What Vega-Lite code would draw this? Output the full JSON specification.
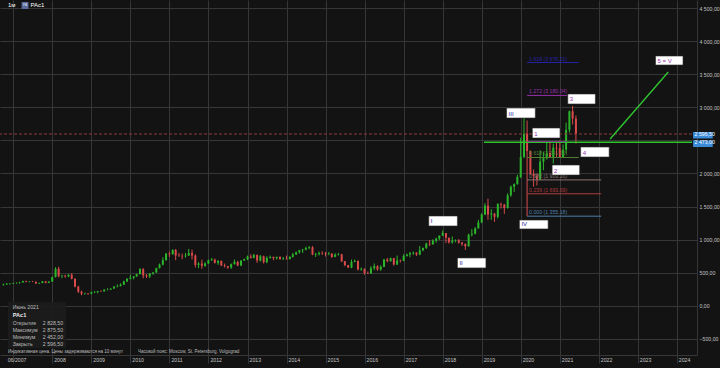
{
  "$schema": "https://vega.github.io/schema/vega-lite/v6.json",
  "width": 697,
  "height": 355,
  "autosize": {"type": "none"},
  "padding": {"left": 0, "top": 0, "right": 23, "bottom": 13},
  "background": "#131313",
  "config": {"view": {"stroke": null}, "font": "Liberation Sans"},
  "datasets": {
    "candles": [
      {"d":"2006/10/01","o":318,"h":335,"l":305,"c":325},
      {"d":"2006/11/01","o":325,"h":345,"l":315,"c":335},
      {"d":"2006/12/01","o":335,"h":345,"l":320,"c":338},
      {"d":"2007/01/01","o":338,"h":350,"l":330,"c":345},
      {"d":"2007/02/01","o":345,"h":355,"l":335,"c":350},
      {"d":"2007/03/01","o":350,"h":362,"l":335,"c":355},
      {"d":"2007/04/01","o":355,"h":380,"l":352,"c":375},
      {"d":"2007/05/01","o":375,"h":382,"l":355,"c":365},
      {"d":"2007/06/01","o":365,"h":375,"l":355,"c":368},
      {"d":"2007/07/01","o":368,"h":378,"l":360,"c":365},
      {"d":"2007/08/01","o":365,"h":368,"l":330,"c":340},
      {"d":"2007/09/01","o":340,"h":352,"l":330,"c":345},
      {"d":"2007/10/01","o":345,"h":375,"l":343,"c":370},
      {"d":"2007/11/01","o":370,"h":378,"l":340,"c":350},
      {"d":"2007/12/01","o":350,"h":370,"l":345,"c":368},
      {"d":"2008/01/01","o":368,"h":440,"l":362,"c":435},
      {"d":"2008/02/01","o":435,"h":585,"l":430,"c":560},
      {"d":"2008/03/01","o":560,"h":590,"l":430,"c":450},
      {"d":"2008/04/01","o":450,"h":470,"l":420,"c":455},
      {"d":"2008/05/01","o":455,"h":470,"l":425,"c":445},
      {"d":"2008/06/01","o":445,"h":480,"l":435,"c":470},
      {"d":"2008/07/01","o":470,"h":495,"l":400,"c":410},
      {"d":"2008/08/01","o":410,"h":415,"l":280,"c":290},
      {"d":"2008/09/01","o":290,"h":305,"l":195,"c":215},
      {"d":"2008/10/01","o":215,"h":230,"l":160,"c":185},
      {"d":"2008/11/01","o":185,"h":200,"l":170,"c":190},
      {"d":"2008/12/01","o":190,"h":195,"l":165,"c":185},
      {"d":"2009/01/01","o":185,"h":215,"l":175,"c":205},
      {"d":"2009/02/01","o":205,"h":225,"l":195,"c":210},
      {"d":"2009/03/01","o":210,"h":225,"l":190,"c":222},
      {"d":"2009/04/01","o":222,"h":235,"l":210,"c":220},
      {"d":"2009/05/01","o":220,"h":250,"l":215,"c":245},
      {"d":"2009/06/01","o":245,"h":265,"l":235,"c":248},
      {"d":"2009/07/01","o":248,"h":265,"l":240,"c":262},
      {"d":"2009/08/01","o":262,"h":300,"l":260,"c":290},
      {"d":"2009/09/01","o":290,"h":325,"l":280,"c":298},
      {"d":"2009/10/01","o":298,"h":340,"l":295,"c":320},
      {"d":"2009/11/01","o":320,"h":380,"l":315,"c":370},
      {"d":"2009/12/01","o":370,"h":420,"l":360,"c":408},
      {"d":"2010/01/01","o":408,"h":470,"l":400,"c":425},
      {"d":"2010/02/01","o":425,"h":450,"l":400,"c":445},
      {"d":"2010/03/01","o":445,"h":485,"l":440,"c":480},
      {"d":"2010/04/01","o":480,"h":570,"l":475,"c":555},
      {"d":"2010/05/01","o":555,"h":570,"l":415,"c":460},
      {"d":"2010/06/01","o":460,"h":480,"l":420,"c":445},
      {"d":"2010/07/01","o":445,"h":495,"l":420,"c":490},
      {"d":"2010/08/01","o":490,"h":510,"l":470,"c":505},
      {"d":"2010/09/01","o":505,"h":575,"l":500,"c":570},
      {"d":"2010/10/01","o":570,"h":640,"l":565,"c":625},
      {"d":"2010/11/01","o":625,"h":735,"l":610,"c":690},
      {"d":"2010/12/01","o":690,"h":800,"l":685,"c":790},
      {"d":"2011/01/01","o":790,"h":820,"l":740,"c":780},
      {"d":"2011/02/01","o":780,"h":855,"l":775,"c":845},
      {"d":"2011/03/01","o":845,"h":860,"l":690,"c":760},
      {"d":"2011/04/01","o":760,"h":800,"l":740,"c":755},
      {"d":"2011/05/01","o":755,"h":790,"l":705,"c":750},
      {"d":"2011/06/01","o":750,"h":800,"l":730,"c":760},
      {"d":"2011/07/01","o":760,"h":860,"l":755,"c":800},
      {"d":"2011/08/01","o":800,"h":850,"l":700,"c":760},
      {"d":"2011/09/01","o":760,"h":780,"l":580,"c":620},
      {"d":"2011/10/01","o":620,"h":660,"l":570,"c":640},
      {"d":"2011/11/01","o":640,"h":700,"l":560,"c":605},
      {"d":"2011/12/01","o":605,"h":660,"l":590,"c":640},
      {"d":"2012/01/01","o":640,"h":700,"l":630,"c":690},
      {"d":"2012/02/01","o":690,"h":725,"l":680,"c":700},
      {"d":"2012/03/01","o":700,"h":715,"l":640,"c":650},
      {"d":"2012/04/01","o":650,"h":690,"l":620,"c":680},
      {"d":"2012/05/01","o":680,"h":685,"l":600,"c":612},
      {"d":"2012/06/01","o":612,"h":640,"l":580,"c":600},
      {"d":"2012/07/01","o":600,"h":605,"l":560,"c":580},
      {"d":"2012/08/01","o":580,"h":640,"l":560,"c":630},
      {"d":"2012/09/01","o":630,"h":700,"l":625,"c":665},
      {"d":"2012/10/01","o":665,"h":680,"l":600,"c":610},
      {"d":"2012/11/01","o":610,"h":690,"l":600,"c":685},
      {"d":"2012/12/01","o":685,"h":715,"l":680,"c":705},
      {"d":"2013/01/01","o":705,"h":760,"l":690,"c":745},
      {"d":"2013/02/01","o":745,"h":780,"l":715,"c":725},
      {"d":"2013/03/01","o":725,"h":785,"l":720,"c":770},
      {"d":"2013/04/01","o":770,"h":775,"l":650,"c":685},
      {"d":"2013/05/01","o":685,"h":770,"l":670,"c":750},
      {"d":"2013/06/01","o":750,"h":760,"l":640,"c":660},
      {"d":"2013/07/01","o":660,"h":750,"l":645,"c":725},
      {"d":"2013/08/01","o":725,"h":760,"l":715,"c":740},
      {"d":"2013/09/01","o":740,"h":745,"l":690,"c":720},
      {"d":"2013/10/01","o":720,"h":745,"l":700,"c":740},
      {"d":"2013/11/01","o":740,"h":750,"l":700,"c":705},
      {"d":"2013/12/01","o":705,"h":740,"l":695,"c":715},
      {"d":"2014/01/01","o":715,"h":760,"l":700,"c":705},
      {"d":"2014/02/01","o":705,"h":750,"l":705,"c":740},
      {"d":"2014/03/01","o":740,"h":800,"l":730,"c":775},
      {"d":"2014/04/01","o":775,"h":820,"l":770,"c":810},
      {"d":"2014/05/01","o":810,"h":845,"l":790,"c":840},
      {"d":"2014/06/01","o":840,"h":860,"l":800,"c":850},
      {"d":"2014/07/01","o":850,"h":895,"l":840,"c":875},
      {"d":"2014/08/01","o":875,"h":905,"l":855,"c":885},
      {"d":"2014/09/01","o":885,"h":905,"l":765,"c":775},
      {"d":"2014/10/01","o":775,"h":800,"l":740,"c":785},
      {"d":"2014/11/01","o":785,"h":820,"l":760,"c":800},
      {"d":"2014/12/01","o":800,"h":825,"l":770,"c":795},
      {"d":"2015/01/01","o":795,"h":815,"l":745,"c":785},
      {"d":"2015/02/01","o":785,"h":815,"l":765,"c":790},
      {"d":"2015/03/01","o":790,"h":795,"l":725,"c":740},
      {"d":"2015/04/01","o":740,"h":795,"l":735,"c":775},
      {"d":"2015/05/01","o":775,"h":800,"l":760,"c":780},
      {"d":"2015/06/01","o":780,"h":785,"l":660,"c":675},
      {"d":"2015/07/01","o":675,"h":680,"l":600,"c":615},
      {"d":"2015/08/01","o":615,"h":620,"l":570,"c":580},
      {"d":"2015/09/01","o":580,"h":700,"l":570,"c":665},
      {"d":"2015/10/01","o":665,"h":700,"l":660,"c":680},
      {"d":"2015/11/01","o":680,"h":685,"l":535,"c":550},
      {"d":"2015/12/01","o":550,"h":580,"l":530,"c":560},
      {"d":"2016/01/01","o":560,"h":565,"l":470,"c":495},
      {"d":"2016/02/01","o":495,"h":520,"l":480,"c":490},
      {"d":"2016/03/01","o":490,"h":600,"l":485,"c":570},
      {"d":"2016/04/01","o":570,"h":640,"l":540,"c":600},
      {"d":"2016/05/01","o":600,"h":615,"l":530,"c":550},
      {"d":"2016/06/01","o":550,"h":615,"l":530,"c":590},
      {"d":"2016/07/01","o":590,"h":710,"l":585,"c":700},
      {"d":"2016/08/01","o":700,"h":725,"l":660,"c":675},
      {"d":"2016/09/01","o":675,"h":730,"l":670,"c":720},
      {"d":"2016/10/01","o":720,"h":725,"l":610,"c":625},
      {"d":"2016/11/01","o":625,"h":760,"l":620,"c":685},
      {"d":"2016/12/01","o":685,"h":700,"l":655,"c":680},
      {"d":"2017/01/01","o":680,"h":780,"l":675,"c":755},
      {"d":"2017/02/01","o":755,"h":790,"l":745,"c":775},
      {"d":"2017/03/01","o":775,"h":815,"l":735,"c":795},
      {"d":"2017/04/01","o":795,"h":820,"l":770,"c":805},
      {"d":"2017/05/01","o":805,"h":810,"l":755,"c":775},
      {"d":"2017/06/01","o":775,"h":905,"l":765,"c":840},
      {"d":"2017/07/01","o":840,"h":880,"l":825,"c":875},
      {"d":"2017/08/01","o":875,"h":955,"l":860,"c":940},
      {"d":"2017/09/01","o":940,"h":995,"l":905,"c":930},
      {"d":"2017/10/01","o":930,"h":1005,"l":925,"c":985},
      {"d":"2017/11/01","o":985,"h":1030,"l":955,"c":1015},
      {"d":"2017/12/01","o":1015,"h":1065,"l":995,"c":1060},
      {"d":"2018/01/01","o":1060,"h":1140,"l":1060,"c":1100},
      {"d":"2018/02/01","o":1100,"h":1100,"l":950,"c":1030},
      {"d":"2018/03/01","o":1030,"h":1030,"l":940,"c":960},
      {"d":"2018/04/01","o":960,"h":1050,"l":940,"c":985},
      {"d":"2018/05/01","o":985,"h":1005,"l":960,"c":990},
      {"d":"2018/06/01","o":990,"h":1010,"l":940,"c":955},
      {"d":"2018/07/01","o":955,"h":965,"l":905,"c":935},
      {"d":"2018/08/01","o":935,"h":945,"l":845,"c":900},
      {"d":"2018/09/01","o":900,"h":1090,"l":895,"c":1075},
      {"d":"2018/10/01","o":1075,"h":1160,"l":1050,"c":1090},
      {"d":"2018/11/01","o":1090,"h":1190,"l":1080,"c":1170},
      {"d":"2018/12/01","o":1170,"h":1300,"l":1170,"c":1260},
      {"d":"2019/01/01","o":1260,"h":1400,"l":1250,"c":1380},
      {"d":"2019/02/01","o":1380,"h":1550,"l":1370,"c":1515},
      {"d":"2019/03/01","o":1515,"h":1620,"l":1300,"c":1380},
      {"d":"2019/04/01","o":1380,"h":1460,"l":1300,"c":1395},
      {"d":"2019/05/01","o":1395,"h":1400,"l":1270,"c":1345},
      {"d":"2019/06/01","o":1345,"h":1550,"l":1320,"c":1540},
      {"d":"2019/07/01","o":1540,"h":1560,"l":1470,"c":1530},
      {"d":"2019/08/01","o":1530,"h":1540,"l":1390,"c":1480},
      {"d":"2019/09/01","o":1480,"h":1700,"l":1470,"c":1670},
      {"d":"2019/10/01","o":1670,"h":1820,"l":1650,"c":1800},
      {"d":"2019/11/01","o":1800,"h":1850,"l":1720,"c":1840},
      {"d":"2019/12/01","o":1840,"h":1980,"l":1830,"c":1950},
      {"d":"2020/01/01","o":1950,"h":2540,"l":1930,"c":2250},
      {"d":"2020/02/01","o":2250,"h":2875,"l":2230,"c":2600},
      {"d":"2020/03/01","o":2600,"h":2800,"l":1355,"c":2340},
      {"d":"2020/04/01","o":2340,"h":2350,"l":1980,"c":1990},
      {"d":"2020/05/01","o":1990,"h":2060,"l":1800,"c":1960},
      {"d":"2020/06/01","o":1960,"h":2000,"l":1820,"c":1910},
      {"d":"2020/07/01","o":1910,"h":2350,"l":1900,"c":2180},
      {"d":"2020/08/01","o":2180,"h":2330,"l":2050,"c":2230},
      {"d":"2020/09/01","o":2230,"h":2480,"l":2210,"c":2310},
      {"d":"2020/10/01","o":2310,"h":2460,"l":2240,"c":2245},
      {"d":"2020/11/01","o":2245,"h":2450,"l":2150,"c":2390},
      {"d":"2020/12/01","o":2390,"h":2470,"l":2240,"c":2380},
      {"d":"2021/01/01","o":2380,"h":2500,"l":2240,"c":2240},
      {"d":"2021/02/01","o":2240,"h":2440,"l":2240,"c":2360},
      {"d":"2021/03/01","o":2360,"h":2770,"l":2300,"c":2660},
      {"d":"2021/04/01","o":2660,"h":2950,"l":2620,"c":2940},
      {"d":"2021/05/01","o":2940,"h":3020,"l":2740,"c":2830},
      {"d":"2021/06/01","o":2828.5,"h":2875.5,"l":2452,"c":2596.5}
    ],
    "fib": [
      {"lvl":"1.618","lab":"1.618 (3 676.21)","d":"2020/03/01","d2":"2021/06/27","v":3676.2},
      {"lvl":"1.272","lab":"1.272 (3 180.04)","d":"2020/03/01","d2":"2021/03/08","v":3179.9},
      {"lvl":"0.786","lab":"0.786 (2 482.71)","d":"2020/03/01","d2":"2021/03/08","v":2482.7},
      {"lvl":"0.618","lab":"0.618 (2 241.71)","d":"2020/03/01","d2":"2021/06/27","v":2241.7},
      {"lvl":"0.382","lab":"0.382 (1 903.16)","d":"2020/03/01","d2":"2022/01/24","v":1903.16},
      {"lvl":"0.236","lab":"0.236 (1 693.69)","d":"2020/03/01","d2":"2022/01/24","v":1693.69},
      {"lvl":"0.000","lab":"0.000 (1 355.18)","d":"2020/03/01","d2":"2022/01/24","v":1355.18}
    ],
    "waves": [
      {"lab":"III","kind":"roman","d":"2019/08/22","d2":"2020/05/17","v":2838,"v2":2989},
      {"lab":"1","kind":"arabic","d":"2020/04/19","d2":"2021/01/03","v":2536,"v2":2687},
      {"lab":"3","kind":"arabic","d":"2021/03/17","d2":"2021/11/30","v":3050,"v2":3201},
      {"lab":"4","kind":"arabic","d":"2021/07/15","d2":"2022/04/08","v":2249,"v2":2400},
      {"lab":"2","kind":"arabic","d":"2020/10/21","d2":"2021/07/06","v":1977,"v2":2128},
      {"lab":"IV","kind":"roman","d":"2019/12/20","d2":"2020/09/14","v":1162,"v2":1297},
      {"lab":"I","kind":"roman","d":"2017/08/24","d2":"2018/05/19","v":1207,"v2":1358},
      {"lab":"II","kind":"roman","d":"2018/05/19","d2":"2019/02/10","v":573,"v2":724},
      {"lab":"5 = V","kind":"arabic","d":"2023/06/16","d2":"2024/02/28","v":3639,"v2":3775}
    ],
    "tags": [
      {"lab":"2 596,50","d":"2024/06/01","d2":"2024/12/02","v":2596.5,"lo":2529,"hi":2627},
      {"lab":"2 473,00","d":"2024/06/01","d2":"2024/12/02","v":2473,"lo":2400,"hi":2500}
    ]
  },
  "layer": [
    {
      "data": {"name": "candles"},
      "mark": {"type": "rule", "strokeWidth": 1},
      "encoding": {
        "x": {"field":"d","type":"temporal","scale":{"type":"time","domain":[{"year":2006,"month":10,"date":16},{"year":2024,"month":5,"date":22}]},
          "axis": {"title":null,"orient":"bottom","tickCount":40,"values":[{"year":2007,"month":1,"date":1},{"year":2008,"month":1,"date":1},{"year":2009,"month":1,"date":1},{"year":2010,"month":1,"date":1},{"year":2011,"month":1,"date":1},{"year":2012,"month":1,"date":1},{"year":2013,"month":1,"date":1},{"year":2014,"month":1,"date":1},{"year":2015,"month":1,"date":1},{"year":2016,"month":1,"date":1},{"year":2017,"month":1,"date":1},{"year":2018,"month":1,"date":1},{"year":2019,"month":1,"date":1},{"year":2020,"month":1,"date":1},{"year":2021,"month":1,"date":1},{"year":2022,"month":1,"date":1},{"year":2023,"month":1,"date":1},{"year":2024,"month":1,"date":1}],
            "format":"%Y","labelExpr":"year(datum.value) == 2007 ? '06/2007' : datum.label",
            "grid":true,"gridColor":"#363636","tickColor":"#363636","tickSize":8,"domainColor":"#363636",
            "labelAlign":"left","labelBaseline":"top","labelPadding":-6,
            "labelOffset":{"condition":{"test":"year(datum.value) == 2007","value":-6},"value":1.5},
            "labelFontSize":5.2,"labelColor":"#c4c4c4","labelOverlap":false,"labelFlush":false}},
        "y": {"field":"l","type":"quantitative","scale":{"domain":[-742,4621],"nice":false,"zero":false},
          "axis": {"title":null,"orient":"right","tickCount":40,"values":[-500,0,500,1000,1500,2000,2500,3000,3500,4000,4500],
            "labelExpr":"datum.value == 2500 ? '' : replace(replace(format(datum.value, ',.2f'), ',', ' '), '.', ',')",
            "grid":true,"gridColor":"#363636","ticks":false,"domainColor":"#363636",
            "labelPadding":2,"labelFontSize":5.2,"labelColor":"#c4c4c4","labelAlign":"left","labelBaseline":"middle",
            "labelOverlap":false,"labelFlush":false}},
        "y2": {"field":"h"},
        "color": {"condition":{"test":"datum.c >= datum.o","value":"#2bb52b"},"value":"#d94a4a"}
      }
    },
    {
      "data": {"name": "candles"},
      "mark": {"type": "bar", "width": 2},
      "encoding": {
        "x": {"field":"d","type":"temporal","scale":{"type":"time","domain":[{"year":2006,"month":10,"date":16},{"year":2024,"month":5,"date":22}]}},
        "y": {"field":"o","type":"quantitative","scale":{"domain":[-742,4621],"nice":false,"zero":false}},
        "y2": {"field":"c"},
        "color": {"condition":{"test":"datum.c >= datum.o","value":"#2bb52b"},"value":"#d94a4a"}
      }
    },
    {
      "data": {"values": [{"d":"2006/11/13","d2":"2008/05/09","v":-636,"v2":59}]},
      "mark": {"type": "rect", "fill": "#1c1c1c", "opacity": 0.92},
      "encoding": {
        "x": {"field":"d","type":"temporal","scale":{"type":"time","domain":[{"year":2006,"month":10,"date":16},{"year":2024,"month":5,"date":22}]}},
        "x2": {"field":"d2"},
        "y": {"field":"v","type":"quantitative","scale":{"domain":[-742,4621],"nice":false,"zero":false}},
        "y2": {"field":"v2"}
      }
    },
    {
      "data": {"values": [{"v":2596.5}]},
      "mark": {"type": "rule", "stroke": "#8e3a3a", "strokeWidth": 1, "strokeDash": [3, 2]},
      "encoding": {
        "y": {"field":"v", "type":"quantitative","scale":{"domain":[-742,4621],"nice":false,"zero":false}}
      }
    },
    {
      "data": {"values": [{"d":"2019/01/23","d2":"2024/05/22","v":2473}]},
      "mark": {"type": "rule", "stroke": "#2fc42f", "strokeWidth": 1.6},
      "encoding": {
        "x": {"field":"d","type":"temporal","scale":{"type":"time","domain":[{"year":2006,"month":10,"date":16},{"year":2024,"month":5,"date":22}]}},
        "x2": {"field":"d2"},
        "y": {"field":"v", "type":"quantitative","scale":{"domain":[-742,4621],"nice":false,"zero":false}}
      }
    },
    {
      "data": {"values": [{"d":"2022/04/17","d2":"2023/10/13","v":2521,"v2":3533}]},
      "mark": {"type": "rule", "stroke": "#2fc42f", "strokeWidth": 1.4},
      "encoding": {
        "x": {"field":"d","type":"temporal","scale":{"type":"time","domain":[{"year":2006,"month":10,"date":16},{"year":2024,"month":5,"date":22}]}},
        "x2": {"field":"d2"},
        "y": {"field":"v", "type":"quantitative","scale":{"domain":[-742,4621],"nice":false,"zero":false}},
        "y2": {"field":"v2"}
      }
    },
    {
      "data": {"name": "fib"},
      "mark": {"type": "rule", "strokeWidth": 1},
      "encoding": {
        "x": {"field":"d","type":"temporal","scale":{"type":"time","domain":[{"year":2006,"month":10,"date":16},{"year":2024,"month":5,"date":22}]}},
        "x2": {"field":"d2"},
        "y": {"field":"v","type":"quantitative","scale":{"domain":[-742,4621],"nice":false,"zero":false}},
        "color": {"field":"lvl","type":"nominal","legend":null,
          "scale":{"domain":["1.618","1.272","0.786","0.618","0.382","0.236","0.000"],"range":["#2424a8","#9a2fae","#7a3f86","#4f7f35","#8c7474","#b03c3c","#4e7ea8"]}}
      }
    },
    {
      "data": {"name": "fib"},
      "transform": [{"filter": "datum.lvl != '0.786'"}],
      "mark": {"type": "text", "align": "left", "baseline": "bottom", "dx": 2, "dy": -1, "fontSize": 5.2},
      "encoding": {
        "x": {"field":"d","type":"temporal","scale":{"type":"time","domain":[{"year":2006,"month":10,"date":16},{"year":2024,"month":5,"date":22}]}},
        "y": {"field":"v","type":"quantitative","scale":{"domain":[-742,4621],"nice":false,"zero":false}},
        "text": {"field":"lab"},
        "color": {"field":"lvl","type":"nominal","legend":null,
          "scale":{"domain":["1.618","1.272","0.786","0.618","0.382","0.236","0.000"],"range":["#2424a8","#9a2fae","#7a3f86","#4f7f35","#8c7474","#b03c3c","#4e7ea8"]}}
      }
    },
    {
      "data": {"name": "waves"},
      "mark": {"type": "rect", "fill": "#ffffff", "stroke": "#2a2a2a", "strokeWidth": 0.6},
      "encoding": {
        "x": {"field":"d","type":"temporal","scale":{"type":"time","domain":[{"year":2006,"month":10,"date":16},{"year":2024,"month":5,"date":22}]}},
        "x2": {"field":"d2"},
        "y": {"field":"v","type":"quantitative","scale":{"domain":[-742,4621],"nice":false,"zero":false}},
        "y2": {"field":"v2"}
      }
    },
    {
      "data": {"name": "waves"},
      "mark": {"type": "text", "align": "left", "baseline": "alphabetic", "dx": 2, "dy": -2.5, "fontSize": 6},
      "encoding": {
        "x": {"field":"d","type":"temporal","scale":{"type":"time","domain":[{"year":2006,"month":10,"date":16},{"year":2024,"month":5,"date":22}]}},
        "y": {"field":"v","type":"quantitative","scale":{"domain":[-742,4621],"nice":false,"zero":false}},
        "text": {"field":"lab"},
        "color": {"field":"kind","type":"nominal","legend":null,"scale":{"domain":["roman","arabic"],"range":["#cf5fcf","#dc4a4a"]}}
      }
    },
    {
      "data": {"name": "tags"},
      "mark": {"type": "rect", "fill": "#3a8ad8"},
      "encoding": {
        "x": {"field":"d","type":"temporal","scale":{"type":"time","domain":[{"year":2006,"month":10,"date":16},{"year":2024,"month":5,"date":22}]}},
        "x2": {"field":"d2"},
        "y": {"field":"lo","type":"quantitative","scale":{"domain":[-742,4621],"nice":false,"zero":false}},
        "y2": {"field":"hi"}
      }
    },
    {
      "data": {"name": "tags"},
      "mark": {"type": "text", "align": "left", "baseline": "middle", "dx": 1.5, "fontSize": 5.2, "fill": "#ffffff"},
      "encoding": {
        "x": {"field":"d","type":"temporal","scale":{"type":"time","domain":[{"year":2006,"month":10,"date":16},{"year":2024,"month":5,"date":22}]}},
        "y": {"field":"v","type":"quantitative","scale":{"domain":[-742,4621],"nice":false,"zero":false}},
        "text": {"field":"lab"}
      }
    },
    {
      "data": {"values": [
        {"t":"Июнь 2021","d":"2006/12/27","v":-17},
        {"t":"Открытие","d":"2006/12/27","v":-259},
        {"t":"Максимум","d":"2006/12/27","v":-365},
        {"t":"Минимум","d":"2006/12/27","v":-470},
        {"t":"Закрыть","d":"2006/12/27","v":-576}
      ]},
      "mark": {"type": "text", "align": "left", "baseline": "middle", "fontSize": 5.2, "fill": "#bdbdbd"},
      "encoding": {
        "x": {"field":"d","type":"temporal","scale":{"type":"time","domain":[{"year":2006,"month":10,"date":16},{"year":2024,"month":5,"date":22}]}},
        "y": {"field":"v","type":"quantitative","scale":{"domain":[-742,4621],"nice":false,"zero":false}},
        "text": {"field":"t"}
      }
    },
    {
      "data": {"values": [
        {"t":"Индикативная цена. Цены задерживаются на 10 минут","d":"2006/11/13","v":-697},
        {"t":"Часовой пояс: Moscow, St. Petersburg, Volgograd","d":"2010/03/13","v":-697}
      ]},
      "mark": {"type": "text", "align": "left", "baseline": "middle", "fontSize": 4.5, "fill": "#bdbdbd"},
      "encoding": {
        "x": {"field":"d","type":"temporal","scale":{"type":"time","domain":[{"year":2006,"month":10,"date":16},{"year":2024,"month":5,"date":22}]}},
        "y": {"field":"v","type":"quantitative","scale":{"domain":[-742,4621],"nice":false,"zero":false}},
        "text": {"field":"t"}
      }
    },
    {
      "data": {"values": [
        {"t":"2 828,50","d":"2008/04/11","v":-259},
        {"t":"2 875,50","d":"2008/04/11","v":-365},
        {"t":"2 452,00","d":"2008/04/11","v":-470},
        {"t":"2 596,50","d":"2008/04/11","v":-576}
      ]},
      "mark": {"type": "text", "align": "right", "baseline": "middle", "fontSize": 5.2, "fill": "#bdbdbd"},
      "encoding": {
        "x": {"field":"d","type":"temporal","scale":{"type":"time","domain":[{"year":2006,"month":10,"date":16},{"year":2024,"month":5,"date":22}]}},
        "y": {"field":"v","type":"quantitative","scale":{"domain":[-742,4621],"nice":false,"zero":false}},
        "text": {"field":"t"}
      }
    },
    {
      "data": {"values": [{"t":"PAc1","d":"2006/12/27","v":-138}]},
      "mark": {"type": "text", "align": "left", "baseline": "middle", "fontSize": 5.6, "fontWeight": "bold", "fill": "#e8e8e8"},
      "encoding": {
        "x": {"field":"d","type":"temporal","scale":{"type":"time","domain":[{"year":2006,"month":10,"date":16},{"year":2024,"month":5,"date":22}]}},
        "y": {"field":"v","type":"quantitative","scale":{"domain":[-742,4621],"nice":false,"zero":false}},
        "text": {"field":"t"}
      }
    },
    {
      "data": {"values": [{"d":"2007/03/20","d2":"2007/05/24","v":4485,"v2":4591}]},
      "mark": {"type": "rect", "fill": "#5b6b9b"},
      "encoding": {
        "x": {"field":"d","type":"temporal","scale":{"type":"time","domain":[{"year":2006,"month":10,"date":16},{"year":2024,"month":5,"date":22}]}},
        "x2": {"field":"d2"},
        "y": {"field":"v","type":"quantitative","scale":{"domain":[-742,4621],"nice":false,"zero":false}},
        "y2": {"field":"v2"}
      }
    },
    {
      "data": {"values": [
        {"t":"1м","d":"2006/11/13","v":4545},
        {"t":"PAc1","d":"2007/06/11","v":4545}
      ]},
      "mark": {"type": "text", "align": "left", "baseline": "middle", "fontSize": 6, "fill": "#ffffff"},
      "encoding": {
        "x": {"field":"d","type":"temporal","scale":{"type":"time","domain":[{"year":2006,"month":10,"date":16},{"year":2024,"month":5,"date":22}]}},
        "y": {"field":"v","type":"quantitative","scale":{"domain":[-742,4621],"nice":false,"zero":false}},
        "text": {"field":"t"}
      }
    },
    {
      "data": {"values": [{"t":"PA","d":"2007/04/22","v":4538}]},
      "mark": {"type": "text", "align": "center", "baseline": "middle", "fontSize": 3.4, "fill": "#dfe4f2"},
      "encoding": {
        "x": {"field":"d","type":"temporal","scale":{"type":"time","domain":[{"year":2006,"month":10,"date":16},{"year":2024,"month":5,"date":22}]}},
        "y": {"field":"v","type":"quantitative","scale":{"domain":[-742,4621],"nice":false,"zero":false}},
        "text": {"field":"t"}
      }
    }
  ]
}
